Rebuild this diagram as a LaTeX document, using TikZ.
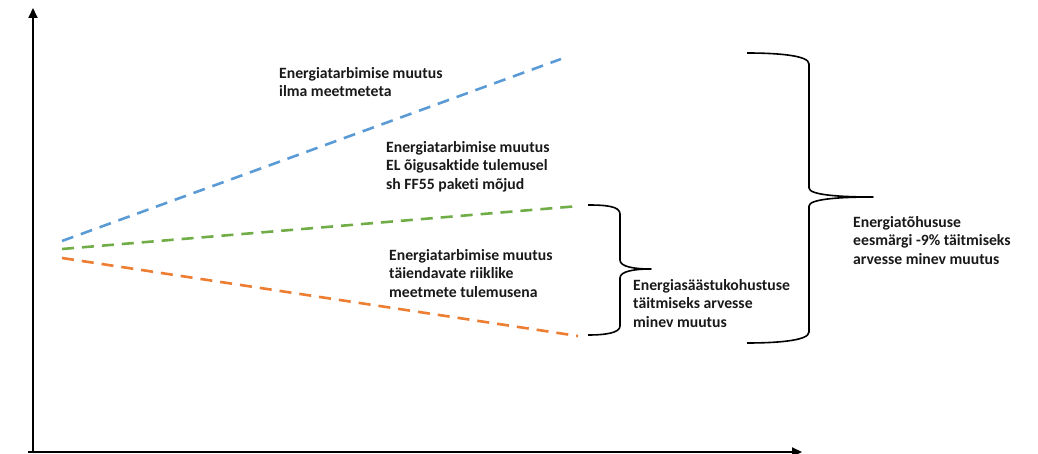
\documentclass[tikz,border=0pt]{standalone}
\usepackage{fontspec}
\setmainfont[Ligatures=NoCommon]{Carlito}
\usetikzlibrary{arrows.meta}
\definecolor{cblue}{HTML}{5B9BD5}
\definecolor{cgreen}{HTML}{70AD47}
\definecolor{corange}{HTML}{ED7D31}
\tikzset{
  axis/.style={line width=2pt,-{Triangle[length=10pt,width=9pt]}},
  trend/.style={line width=2.6pt,dash pattern=on 12pt off 8pt},
  brace/.style={line width=1.6pt,line join=round},
  lbl/.style={anchor=north west,inner sep=0pt,align=left,
    font=\fontsize{15.7pt}{18.6pt}\selectfont\bfseries,text=black!90}
}
\begin{document}
\begin{tikzpicture}[x=1pt,y=-1pt]
\useasboundingbox (0,0) rectangle (1038,454);
% axes
\coordinate (o) at (33,452);
\coordinate (ytop) at (33,8);
\coordinate (xend) at (802,452);
\coordinate (xstart) at (28,452);
\draw[axis] (o) -- (ytop);
\draw[axis] (xstart) -- (xend);
% trend lines
\coordinate (b0) at (62,241);
\coordinate (b1) at (561,59);
\coordinate (g0) at (62,249);
\coordinate (g1) at (579,206);
\coordinate (r0) at (62,258);
\coordinate (r1) at (578,336);
\draw[trend,cblue] (b0) -- (b1);
\draw[trend,cgreen] (g0) -- (g1);
\draw[trend,corange] (r0) -- (r1);
% small brace
\coordinate (s1) at (588,205);
\coordinate (stip) at (651,269);
\coordinate (s2) at (588,335);
\draw[brace] (s1) .. controls (605,205) and (620,206) .. (620,214)
  -- (620,260) .. controls (620,267) and (635,269) .. (stip)
  .. controls (635,269) and (620,271) .. (620,278)
  -- (620,326) .. controls (620,333) and (605,335) .. (s2);
% big brace
\coordinate (t1) at (747,53);
\coordinate (ttip) at (873,197);
\coordinate (t2) at (747,343);
\draw[brace] (t1) .. controls (775,53) and (809,55) .. (809,64)
  -- (809,188) .. controls (809,195) and (840,197) .. (ttip)
  .. controls (840,197) and (809,199) .. (809,206)
  -- (809,332) .. controls (809,341) and (775,343) .. (t2);
% labels
\node[lbl] (l1) at (279,67) {Energiatarbimise muutus\\ilma meetmeteta};
\node[lbl] (l2) at (386,141) {Energiatarbimise muutus\\EL õigusaktide tulemusel\\sh FF55 paketi mõjud};
\node[lbl] (l3) at (389,249) {Energiatarbimise muutus\\täiendavate riiklike\\meetmete tulemusena};
\node[lbl] (l4) at (633,279) {Energiasäästukohustuse\\täitmiseks arvesse\\minev muutus};
\node[lbl] (l5) at (853,216) {Energiatõhususe\\eesmärgi -9\% täitmiseks\\arvesse minev muutus};
\end{tikzpicture}
\end{document}
